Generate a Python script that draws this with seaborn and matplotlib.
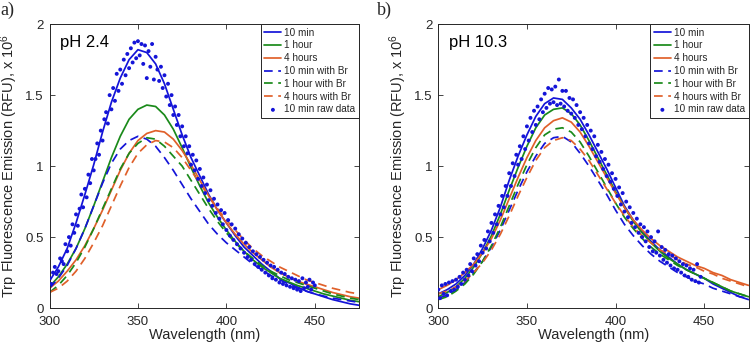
import numpy as np
import pandas as pd
import matplotlib
matplotlib.use("Agg")
import matplotlib.pyplot as plt
import seaborn as sns

# ---------------- data ----------------
wavelength = list(range(300, 476, 5))

series_labels = ["10 min", "1 hour", "4 hours",
                 "10 min with Br", "1 hour with Br", "4 hours with Br"]

# panel a) pH 2.4
L_10min = [0.19,0.29,0.42,0.60,0.80,1.01,1.24,1.45,1.62,1.75,1.82,1.80,1.72,1.58,1.40,1.22,1.06,0.93,
           0.80,0.69,0.60,0.51,0.43,0.37,0.31,0.26,0.21,0.18,0.15,0.12,0.10,0.08,0.06,0.045,0.03,0.02]
L_1h = [0.15,0.22,0.31,0.42,0.56,0.72,0.89,1.06,1.21,1.33,1.40,1.43,1.42,1.36,1.26,1.13,0.99,0.86,
        0.74,0.64,0.55,0.47,0.40,0.34,0.29,0.25,0.21,0.185,0.16,0.14,0.12,0.10,0.085,0.07,0.055,0.045]
L_4h = [0.14,0.19,0.26,0.34,0.44,0.56,0.69,0.83,0.97,1.09,1.18,1.23,1.25,1.24,1.19,1.11,1.01,0.90,
        0.79,0.69,0.60,0.52,0.45,0.39,0.34,0.29,0.25,0.22,0.19,0.17,0.15,0.13,0.11,0.095,0.08,0.07]
L_10min_Br = [0.14,0.21,0.30,0.42,0.56,0.72,0.88,1.02,1.12,1.18,1.21,1.19,1.14,1.06,0.97,0.87,0.77,0.68,
              0.59,0.52,0.46,0.41,0.36,0.31,0.27,0.23,0.20,0.17,0.14,0.12,0.10,0.085,0.07,0.06,0.05,0.04]
L_1h_Br = [0.11,0.16,0.23,0.32,0.43,0.56,0.70,0.84,0.98,1.09,1.16,1.20,1.19,1.14,1.07,1.00,0.90,0.80,
           0.70,0.61,0.53,0.46,0.40,0.35,0.30,0.26,0.23,0.20,0.18,0.16,0.14,0.12,0.10,0.085,0.07,0.06]
L_4h_Br = [0.11,0.14,0.19,0.26,0.35,0.46,0.58,0.72,0.86,0.99,1.09,1.15,1.18,1.17,1.13,1.06,0.97,0.88,
           0.79,0.70,0.62,0.55,0.48,0.42,0.37,0.33,0.29,0.26,0.23,0.20,0.18,0.16,0.14,0.125,0.11,0.10]

raw_wavelength_L = list(range(300, 451))
raw_L = [0.21,0.17,0.25,0.29,0.24,0.26,0.35,0.33,0.31,0.45,
         0.40,0.50,0.44,0.59,0.53,0.66,0.58,0.70,0.80,0.71,
         0.84,0.78,0.94,0.88,1.05,0.97,1.05,1.16,1.08,1.25,
         1.18,1.33,1.38,1.30,1.50,1.40,1.55,1.46,1.65,1.53,
         1.68,1.58,1.75,1.64,1.79,1.69,1.83,1.73,1.87,1.76,
         1.88,1.78,1.86,1.72,1.85,1.62,1.81,1.70,1.86,1.61,
         1.77,1.68,1.60,1.70,1.55,1.64,1.49,1.58,1.43,1.50,
         1.36,1.42,1.29,1.36,1.21,1.28,1.14,1.21,1.09,1.14,
         1.01,1.08,0.97,1.04,0.91,0.98,0.86,0.92,0.81,0.87,
         0.76,0.83,0.72,0.77,0.67,0.73,0.63,0.69,0.59,0.67,
         0.55,0.62,0.51,0.59,0.48,0.56,0.45,0.52,0.42,0.49,
         0.39,0.46,0.36,0.43,0.34,0.40,0.31,0.38,0.29,0.36,
         0.27,0.34,0.25,0.32,0.23,0.30,0.21,0.29,0.20,0.27,
         0.18,0.25,0.17,0.24,0.16,0.22,0.15,0.21,0.14,0.20,
         0.13,0.19,0.12,0.21,0.14,0.18,0.15,0.20,0.13,0.18,
         0.16]

# panel b) pH 10.3
R_10min = [0.10,0.13,0.17,0.23,0.31,0.42,0.55,0.71,0.90,1.07,1.22,1.35,1.44,1.48,1.47,1.41,1.33,1.22,
           1.10,0.98,0.85,0.72,0.62,0.54,0.47,0.41,0.36,0.31,0.27,0.24,0.21,0.17,0.14,0.11,0.08,0.06]
R_1h = [0.08,0.11,0.15,0.21,0.29,0.39,0.51,0.66,0.83,0.99,1.14,1.27,1.36,1.40,1.41,1.37,1.29,1.18,
        1.06,0.94,0.82,0.71,0.61,0.53,0.46,0.40,0.35,0.31,0.27,0.24,0.21,0.18,0.15,0.12,0.10,0.08]
R_4h = [0.13,0.16,0.20,0.25,0.31,0.39,0.49,0.62,0.77,0.92,1.06,1.18,1.27,1.32,1.34,1.31,1.24,1.14,
        1.03,0.92,0.81,0.71,0.62,0.55,0.49,0.44,0.40,0.36,0.33,0.30,0.28,0.25,0.23,0.20,0.18,0.16]
R_10min_Br = [0.07,0.09,0.13,0.18,0.25,0.33,0.43,0.55,0.69,0.83,0.96,1.07,1.16,1.20,1.21,1.17,1.09,1.00,
              0.90,0.80,0.69,0.59,0.51,0.44,0.38,0.33,0.29,0.25,0.22,0.19,0.17,0.14,0.12,0.10,0.08,0.07]
R_1h_Br = [0.06,0.08,0.12,0.17,0.24,0.33,0.44,0.57,0.72,0.87,1.01,1.13,1.22,1.26,1.27,1.24,1.17,1.07,
           0.96,0.85,0.74,0.64,0.56,0.49,0.43,0.38,0.34,0.30,0.27,0.24,0.21,0.18,0.15,0.12,0.10,0.08]
R_4h_Br = [0.10,0.12,0.15,0.19,0.25,0.32,0.41,0.52,0.65,0.79,0.92,1.04,1.13,1.18,1.20,1.18,1.12,1.04,
           0.94,0.84,0.74,0.65,0.57,0.51,0.46,0.41,0.38,0.34,0.31,0.29,0.26,0.24,0.21,0.19,0.17,0.15]

raw_wavelength_R = list(range(300, 449))
raw_R = [0.13,0.07,0.16,0.10,0.17,0.09,0.18,0.12,0.19,0.13,
         0.20,0.15,0.22,0.17,0.25,0.20,0.27,0.23,0.31,0.26,
         0.35,0.30,0.38,0.33,0.44,0.39,0.48,0.42,0.54,0.47,
         0.60,0.53,0.66,0.59,0.72,0.66,0.79,0.71,0.86,0.79,
         0.95,0.86,1.02,0.93,1.08,1.01,1.14,1.05,1.21,1.12,
         1.28,1.18,1.34,1.24,1.39,1.29,1.42,1.33,1.47,1.38,
         1.51,1.41,1.55,1.44,1.54,1.45,1.56,1.43,1.61,1.44,
         1.53,1.42,1.53,1.39,1.48,1.37,1.47,1.34,1.43,1.29,
         1.38,1.26,1.34,1.21,1.29,1.16,1.25,1.12,1.21,1.07,
         1.15,1.03,1.10,0.98,1.05,0.93,1.01,0.89,0.95,0.84,
         0.91,0.79,0.85,0.73,0.81,0.68,0.75,0.64,0.71,0.60,
         0.67,0.57,0.63,0.53,0.59,0.50,0.57,0.47,0.54,0.43,
         0.50,0.40,0.47,0.39,0.54,0.37,0.43,0.34,0.41,0.32,
         0.38,0.30,0.37,0.28,0.35,0.27,0.33,0.25,0.31,0.23,
         0.30,0.22,0.28,0.20,0.27,0.19,0.31,0.18,0.22]

panel_titles = ["pH 2.4", "pH 10.3"]
panel_letters = ["a)", "b)"]
x_ticks = [300, 350, 400, 450]
y_ticks = [0, 0.5, 1, 1.5, 2]
y_tick_labels = ["0", "0.5", "1", "1.5", "2"]

# ---------------- style ----------------
sns.set_theme(style="ticks")
plt.rcParams["font.family"] = ["Liberation Sans", "DejaVu Sans"]
plt.rcParams["mathtext.fontset"] = "custom"
plt.rcParams["mathtext.rm"] = "Liberation Sans"
plt.rcParams["mathtext.it"] = "Liberation Sans:italic"

BLUE = "#1414d8"
GREEN = "#1a8a1a"
ORANGE = "#e0602a"
colors = [BLUE, GREEN, ORANGE, BLUE, GREEN, ORANGE]
styles = ["-", "-", "-", (0, (5, 3.2)), (0, (5, 3.2)), (0, (5, 3.2))]

fig = plt.figure(figsize=(7.5, 3.45), dpi=100)
ax_l = fig.add_axes([0.066, 0.107, 0.4127, 0.823])
ax_r = fig.add_axes([0.5844, 0.107, 0.4136, 0.823])

panels = [
    (ax_l, [L_10min, L_1h, L_4h, L_10min_Br, L_1h_Br, L_4h_Br], raw_wavelength_L, raw_L),
    (ax_r, [R_10min, R_1h, R_4h, R_10min_Br, R_1h_Br, R_4h_Br], raw_wavelength_R, raw_R),
]

for i, (ax, curves, rw, rv) in enumerate(panels):
    for vals, lab, c, ls in zip(curves, series_labels, colors, styles):
        sns.lineplot(x=wavelength, y=vals, ax=ax, color=c, linestyle=ls,
                     linewidth=1.25, label=lab, estimator=None, sort=False)
    sns.scatterplot(x=rw, y=rv, ax=ax, color=BLUE, s=8, edgecolor="none",
                    label="10 min raw data", zorder=3)
    ax.set_xlim(300, 475)
    ax.set_ylim(0, 2)
    ax.set_xticks(x_ticks)
    ax.set_yticks(y_ticks)
    ax.set_yticklabels(y_tick_labels)
    ax.tick_params(direction="in", top=True, right=True, length=3.5, width=0.6,
                   labelsize=9.5, colors="#262626")
    ax.tick_params(axis="x", pad=6)
    ax.tick_params(axis="y", pad=4)
    for sp in ax.spines.values():
        sp.set_visible(True)
        sp.set_color("#262626")
        sp.set_linewidth(0.7)
    ax.set_xlabel("Wavelength (nm)", fontsize=10.5, color="#262626", labelpad=0)
    ax.set_ylabel(r"Trp Fluorescence Emission (RFU), x 10$^{6}$", fontsize=10.5,
                  color="#262626")
    ax.yaxis.set_label_coords(-0.095, 0.5)
    ax.text(0.035, 0.935, panel_titles[i], transform=ax.transAxes, va="center",
            ha="left", fontsize=12, color="black")
    leg = ax.legend(loc="upper right", borderaxespad=0, fontsize=7.2,
                    handlelength=1.7, handletextpad=0.3, labelspacing=0.28,
                    borderpad=0.35, frameon=True, fancybox=False, framealpha=1,
                    edgecolor="#262626", markerscale=1.0)
    leg.get_frame().set_linewidth(0.7)

fig.text(0.001, 0.995, panel_letters[0], fontsize=13, family="Liberation Serif",
         va="top", ha="left")
fig.text(0.503, 0.995, panel_letters[1], fontsize=13, family="Liberation Serif",
         va="top", ha="left")

fig.savefig("out.png", dpi=100)
